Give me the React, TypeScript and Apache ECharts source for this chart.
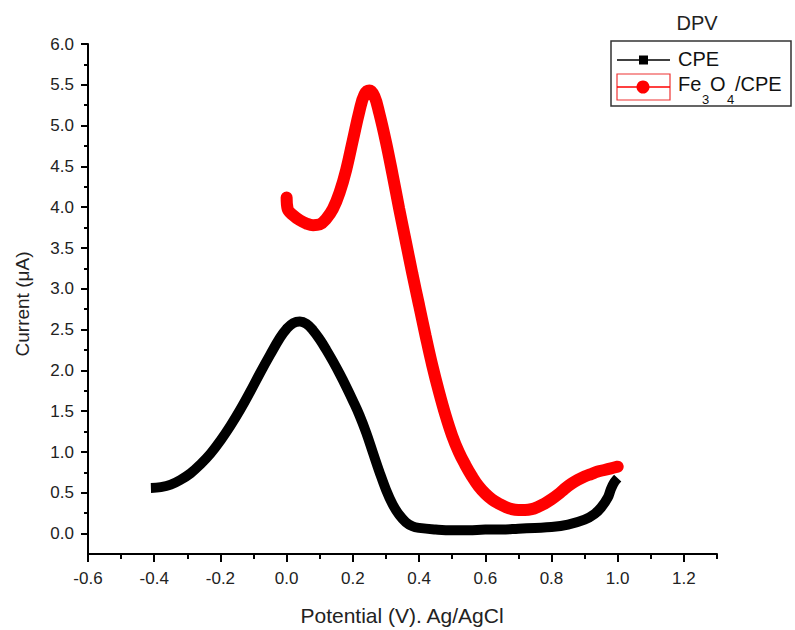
import React, { useEffect, useRef } from "react";
import * as echarts from "echarts";

const cpeX = [-0.41, -0.38, -0.35, -0.32, -0.29, -0.26, -0.23, -0.2, -0.17, -0.14, -0.11, -0.08, -0.05, -0.02, 0.0, 0.02, 0.04, 0.06, 0.08, 0.1, 0.12, 0.14, 0.16, 0.18, 0.2, 0.22, 0.24, 0.26, 0.28, 0.3, 0.32, 0.34, 0.36, 0.38, 0.4, 0.45, 0.5, 0.55, 0.6, 0.65, 0.7, 0.75, 0.8, 0.85, 0.9, 0.93, 0.95, 0.97, 0.98, 0.99, 1.0];
const cpeY = [0.56, 0.57, 0.6, 0.66, 0.74, 0.85, 0.98, 1.14, 1.32, 1.52, 1.74, 1.97, 2.19, 2.4, 2.51, 2.58, 2.6, 2.57, 2.49, 2.38, 2.25, 2.11, 1.96, 1.8, 1.63, 1.45, 1.24, 1.0, 0.76, 0.54, 0.36, 0.23, 0.14, 0.09, 0.07, 0.05, 0.04, 0.04, 0.05, 0.05, 0.06, 0.07, 0.08, 0.11, 0.17, 0.24, 0.32, 0.44, 0.55, 0.63, 0.68];

const feX = [0.0, 0.003, 0.02, 0.04, 0.06, 0.08, 0.1, 0.12, 0.14, 0.16, 0.18, 0.2, 0.22, 0.235, 0.25, 0.265, 0.28, 0.3, 0.32, 0.34, 0.36, 0.38, 0.4, 0.42, 0.44, 0.46, 0.48, 0.5, 0.52, 0.54, 0.56, 0.58, 0.6, 0.62, 0.64, 0.66, 0.68, 0.7, 0.72, 0.74, 0.76, 0.78, 0.8, 0.82, 0.84, 0.86, 0.88, 0.9, 0.92, 0.94, 0.96, 0.98, 1.0];
const feY = [4.12, 3.98, 3.9, 3.84, 3.8, 3.78, 3.79, 3.86, 3.98, 4.18, 4.46, 4.82, 5.18, 5.38, 5.43, 5.36, 5.15, 4.8, 4.4, 3.98, 3.58, 3.18, 2.8, 2.42, 2.06, 1.74, 1.45, 1.2, 1.0, 0.84, 0.7, 0.58, 0.49, 0.42, 0.37, 0.33, 0.3, 0.29, 0.29, 0.3, 0.33, 0.37, 0.42, 0.48, 0.55, 0.61, 0.66, 0.7, 0.73, 0.76, 0.78, 0.8, 0.82];

const xTicks = [-0.6, -0.4, -0.2, 0.0, 0.2, 0.4, 0.6, 0.8, 1.0, 1.2];
const xMinorTicks = [-0.5, -0.3, -0.1, 0.1, 0.3, 0.5, 0.7, 0.9, 1.1, 1.3];
const yTicks = [0, 0.5, 1.0, 1.5, 2.0, 2.5, 3.0, 3.5, 4.0, 4.5, 5.0, 5.5, 6.0];
const yMinorTicks = [0.25, 0.75, 1.25, 1.75, 2.25, 2.75, 3.25, 3.75, 4.25, 4.75, 5.25, 5.75];

const legendTitle = "DPV";
const seriesNames = ["CPE", "Fe3O4/CPE"];
const xTitle = "Potential (V). Ag/AgCl";
const yTitle = "Current (\u03bcA)";

const FONT = "Liberation Sans, Arial, sans-serif";

export default function App() {
  const ref = useRef<HTMLDivElement>(null);
  useEffect(() => {
    if (!ref.current) return;
    const chart = echarts.init(ref.current, undefined, { renderer: "svg" });
    const axisLine = { show: true, onZero: false, lineStyle: { color: "#000", width: 2 } };
    const tickStyle = { color: "#000", width: 2 };
    const labelStyle = { color: "#222", fontSize: 17, fontFamily: FONT };
    const txt = (x: number, y: number, text: string, size: number) => ({
      type: "text",
      x,
      y,
      style: { text, font: `${size}px ${FONT}`, fill: "#111", textAlign: "left", textVerticalAlign: "middle" },
    });
    const option: any = {
      animation: false,
      backgroundColor: "#fff",
      grid: { left: 88, right: 78, top: 44, bottom: 76 },
      xAxis: [
        {
          type: "value",
          min: -0.6,
          max: 1.3,
          position: "bottom",
          axisLine,
          splitLine: { show: false },
          axisTick: { show: true, inside: false, length: 8, customValues: xTicks, lineStyle: tickStyle },
          axisLabel: { ...labelStyle, customValues: xTicks, formatter: (v: number) => v.toFixed(1), margin: 16 },
        },
        {
          type: "value",
          min: -0.6,
          max: 1.3,
          position: "bottom",
          axisLine: { show: false, onZero: false },
          splitLine: { show: false },
          axisTick: { show: true, length: 5, customValues: xMinorTicks, lineStyle: tickStyle },
          axisLabel: { show: false },
        },
      ],
      yAxis: [
        {
          type: "value",
          min: -0.25,
          max: 6,
          position: "left",
          axisLine,
          splitLine: { show: false },
          axisTick: { show: true, inside: false, length: 7, customValues: yTicks, lineStyle: tickStyle },
          axisLabel: { ...labelStyle, customValues: yTicks, formatter: (v: number) => v.toFixed(1), margin: 14 },
        },
        {
          type: "value",
          min: -0.25,
          max: 6,
          position: "left",
          axisLine: { show: false, onZero: false },
          splitLine: { show: false },
          axisTick: { show: true, length: 4, customValues: yMinorTicks, lineStyle: tickStyle },
          axisLabel: { show: false },
        },
      ],
      series: [
        {
          name: seriesNames[0],
          type: "line",
          xAxisIndex: 0,
          yAxisIndex: 0,
          data: cpeX.map((x, i) => [x, cpeY[i]]),
          showSymbol: false,
          smooth: 0.4,
          lineStyle: { color: "#000", width: 10 },
        },
        {
          name: seriesNames[1],
          type: "line",
          xAxisIndex: 0,
          yAxisIndex: 0,
          data: feX.map((x, i) => [x, feY[i]]),
          showSymbol: false,
          smooth: 0.4,
          lineStyle: { color: "#f00", width: 12, cap: "round" },
        },
      ],
      graphic: [
        {
          type: "text",
          x: 697,
          y: 23,
          style: { text: legendTitle, font: `20px ${FONT}`, fill: "#222", textAlign: "center", textVerticalAlign: "middle" },
        },
        {
          type: "rect",
          shape: { x: 611, y: 41, width: 180, height: 65 },
          style: { fill: "none", stroke: "#333", lineWidth: 1.5 },
        },
        {
          type: "line",
          shape: { x1: 617, y1: 60, x2: 670, y2: 60 },
          style: { stroke: "#000", lineWidth: 1.5 },
        },
        {
          type: "rect",
          shape: { x: 639, y: 55.5, width: 9, height: 9 },
          style: { fill: "#000" },
        },
        txt(678, 59, seriesNames[0], 20),
        {
          type: "rect",
          shape: { x: 617, y: 74, width: 53, height: 26 },
          style: { fill: "none", stroke: "#e33", lineWidth: 1.2 },
        },
        {
          type: "line",
          shape: { x1: 617, y1: 87, x2: 670, y2: 87 },
          style: { stroke: "#f00", lineWidth: 1.5 },
        },
        {
          type: "circle",
          shape: { cx: 643, cy: 87, r: 6.5 },
          style: { fill: "#f00" },
        },
        txt(678, 84, "Fe", 20),
        txt(702, 99, "3", 13),
        txt(710, 84, "O", 20),
        txt(727, 99, "4", 13),
        txt(735, 84, "/CPE", 20),
        {
          type: "text",
          x: 402,
          y: 615,
          style: { text: xTitle, font: `21px ${FONT}`, fill: "#222", textAlign: "center", textVerticalAlign: "middle" },
        },
        {
          type: "text",
          x: 22,
          y: 304,
          rotation: Math.PI / 2,
          style: { text: yTitle, font: `19px ${FONT}`, fill: "#222", textAlign: "center", textVerticalAlign: "middle" },
        },
      ],
    };
    chart.setOption(option);
    return () => chart.dispose();
  }, []);
  return <div ref={ref} style={{ position: "fixed", left: 0, top: 0, width: 795, height: 630 }} />;
}
